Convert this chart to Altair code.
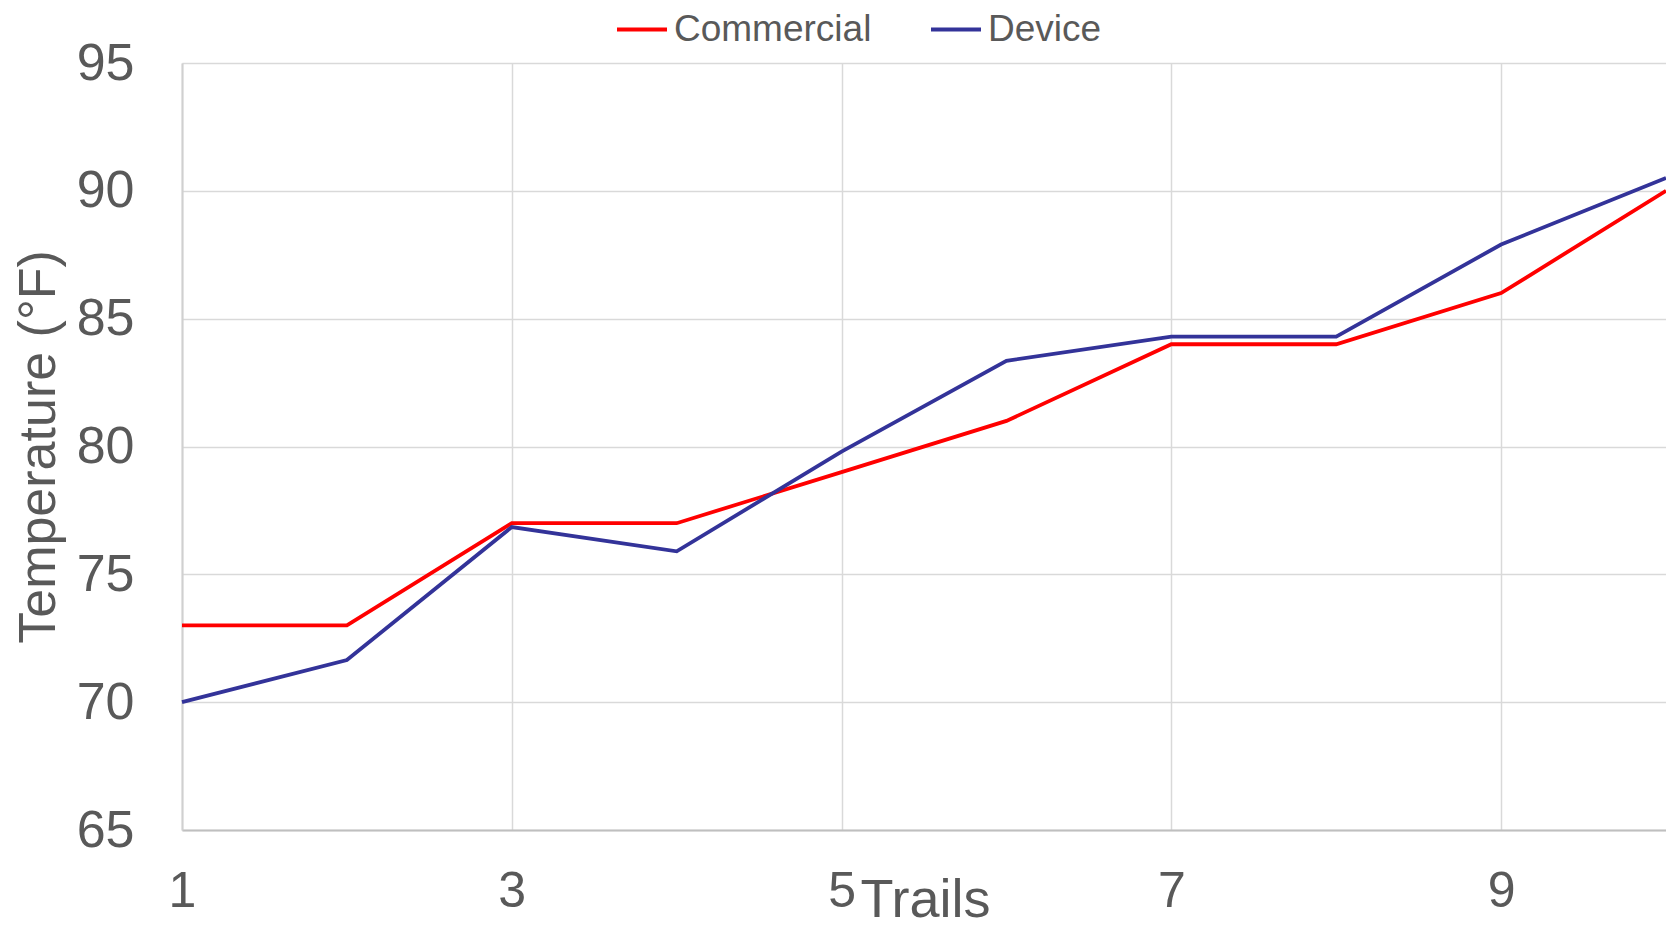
import altair as alt
import pandas as pd

trials = [1, 2, 3, 4, 5, 6, 7, 8, 9, 10]
commercial = [73, 73, 77, 77, 79, 81, 84, 84, 86, 90]
device = [70, 71.65, 76.85, 75.9, 79.8, 83.35, 84.3, 84.3, 87.9, 90.5]
series_names = ["Commercial", "Device"]
series_colors = ["#FF0000", "#333399"]
x_ticks = [1, 3, 5, 7, 9]
y_ticks = [65, 70, 75, 80, 85, 90, 95]

rows = []
for t, c, d in zip(trials, commercial, device):
    rows.append({"Trial": t, "Series": series_names[0], "Temp": c})
    rows.append({"Trial": t, "Series": series_names[1], "Temp": d})
df = pd.DataFrame(rows)

FONT = "Liberation Sans"
GRAY = "#595959"
W, H = 1484, 767

chart = alt.Chart(df).mark_line(strokeWidth=3.8).encode(
    x=alt.X("Trial:Q",
            scale=alt.Scale(domain=[1, 10], nice=False, zero=False),
            axis=alt.Axis(values=x_ticks, title="Trails", labelPadding=36,
                          labelFlush=False, labelFontSize=50,
                          titleY=86, titleBaseline="alphabetic", titleX=743,
                          titleAnchor="start", titleAlign="center",
                          titleFontSize=54, domainColor="#bfbfbf")),
    y=alt.Y("Temp:Q",
            scale=alt.Scale(domain=[65, 95], nice=False, zero=False),
            axis=alt.Axis(values=y_ticks, title="Temperature (°F)", labelPadding=48,
                          labelFontSize=52, labelFlush=False,
                          titleX=-143.5, titleBaseline="middle", titleFontSize=52,
                          domainColor="#d0d0d0")),
    color=alt.Color("Series:N",
                    scale=alt.Scale(domain=series_names, range=series_colors),
                    legend=alt.Legend(title=None, orient="none", direction="horizontal",
                                      legendX=433, legendY=-60.5,
                                      symbolType="stroke", symbolSize=2500,
                                      symbolStrokeWidth=4, labelOffset=5,
                                      columnPadding=51, labelFontSize=37,
                                      labelLimit=0,
                                      labelFont=FONT, labelColor=GRAY)),
).properties(
    width=W, height=H,
    autosize=alt.AutoSizeParams(type="none"),
    padding={"left": 174, "top": 55, "right": 0, "bottom": 100},
).configure(
    background="white"
).configure_axis(
    labelFont=FONT, titleFont=FONT,
    labelColor=GRAY, titleColor=GRAY, titleFontWeight="normal",
    ticks=False, grid=True, gridColor="#d9d9d9", gridWidth=1.5,
    domainWidth=2,
).configure_view(stroke=None)

chart.save("out.html", embed_options={"renderer": "svg", "actions": False})
